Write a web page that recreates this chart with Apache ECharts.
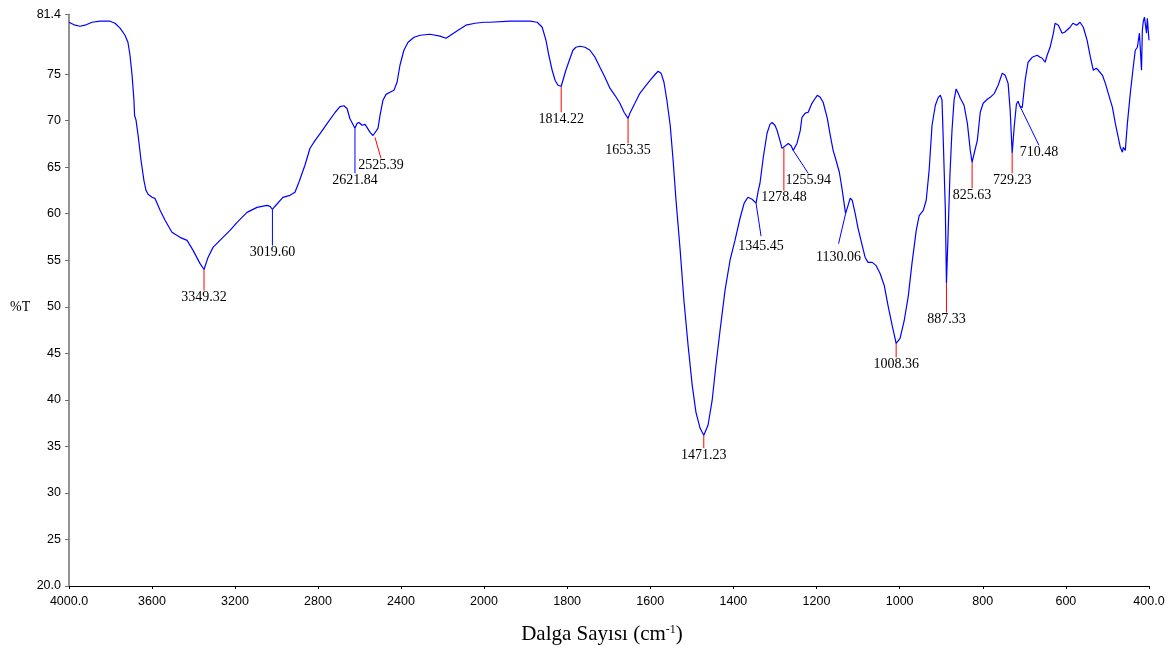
<!DOCTYPE html>
<html>
<head>
<meta charset="utf-8">
<script src="https://cdn.jsdelivr.net/npm/echarts@6/dist/echarts.min.js"></script>
<style>
  html, body { margin: 0; padding: 0; background: #ffffff; }
  #chart { width: 1175px; height: 652px; }
</style>
</head>
<body>
<div id="chart"></div>
<script>
// IR spectrum: wavenumber (cm-1) and transmittance (%T)
const wavenumber = [
  4000, 3971, 3947, 3923, 3889, 3851, 3802, 3778, 3754, 3730, 3716, 3706, 3696, 3687,
  3684, 3680, 3677, 3667, 3653, 3639, 3629, 3619, 3600, 3586, 3561, 3537, 3504, 3465,
  3431, 3402, 3369, 3349.32, 3330, 3306, 3263, 3224, 3190, 3142, 3094, 3046, 3031,
  3019.60, 3007, 2998, 2969, 2935, 2911, 2892, 2863, 2839, 2814, 2790, 2752, 2718,
  2694, 2675, 2660, 2646, 2621.84, 2612, 2602, 2588, 2573, 2564, 2549, 2535, 2525.39,
  2511, 2501, 2487, 2472, 2453, 2434, 2419, 2405, 2386, 2366, 2337, 2308, 2260, 2212,
  2183, 2154, 2125, 2087, 2043, 2000,
  1986, 1937, 1889, 1872, 1860, 1851, 1844, 1836, 1829, 1822, 1814.22, 1810, 1803,
  1793, 1786, 1779, 1769, 1757, 1745, 1733, 1721, 1709, 1697, 1685, 1673, 1663,
  1653.35, 1649, 1637, 1625, 1612, 1600, 1588, 1581, 1574, 1567, 1560, 1552, 1545,
  1538, 1528, 1519, 1509, 1499, 1490, 1480, 1471.23, 1461, 1451, 1442, 1432, 1420,
  1408, 1396, 1384, 1374, 1365, 1355, 1345.45, 1340, 1336, 1328, 1319, 1312, 1307,
  1300, 1295, 1288, 1283, 1278.48, 1268, 1261, 1255.94, 1247, 1239, 1235, 1227, 1220,
  1211, 1203, 1198, 1191, 1184, 1174, 1167, 1160, 1153, 1145, 1138, 1130.06, 1124,
  1119, 1114, 1107, 1100, 1093, 1083, 1076, 1066, 1057, 1047, 1037, 1028, 1018,
  1008.36, 999, 989, 979, 970, 960, 953, 943, 936, 929, 922, 914, 907, 902, 898, 895,
  890, 887.33, 884, 879, 874, 869, 864, 859, 854, 850, 845, 837, 830, 825.63, 820,
  813, 806, 799, 789, 782, 772, 763, 753, 746, 739, 734, 729.23, 724, 719, 715,
  710.48, 705, 698, 691, 681, 669, 662, 657, 650, 645, 638, 630, 626, 618, 609, 603,
  590, 583, 574, 566, 558, 549, 541, 534, 527, 522, 512, 505, 498, 488, 481, 474,
  469, 464, 462, 457, 452, 445, 438, 433, 428, 423, 418, 416, 414, 411, 406, 404, 400
];
const transmittance = [
  80.57, 80.25, 80.14, 80.25, 80.57, 80.68, 80.68, 80.46, 79.93, 79.17, 78.42, 77.02, 74.87, 72.19,
  70.55, 70.75, 70.05, 68.43, 65.74, 63.58, 62.51, 62.08, 61.76, 61.65, 60.36, 59.29, 58.0, 57.46,
  57.13, 56.06, 54.66, 54.0, 55.3, 56.38, 57.35, 58.2, 59.07, 60.14, 60.68, 60.9, 60.79,
  60.45, 60.8, 60.9, 61.76, 61.97, 62.3, 63.37, 65.2, 67.0, 67.88, 68.6, 69.8, 70.87,
  71.5, 71.6, 71.3, 70.2, 69.17, 69.7, 69.8, 69.5, 69.6, 69.6, 68.73, 68.4, 68.2,
  69.17, 70.57, 72.19, 72.82, 73.05, 73.26, 74.12, 75.95, 77.56, 78.42, 78.95, 79.17, 79.28, 79.07,
  78.85, 79.28, 79.71, 80.25, 80.46, 80.57,
  80.57, 80.68, 80.68, 80.57, 80.03, 78.64, 77.02, 75.41, 74.34, 73.8, 73.69, 74.34, 75.41,
  76.7, 77.56, 77.88, 77.99, 77.88, 77.56, 76.81, 75.73, 74.66, 73.48, 72.72, 71.86, 70.9,
  70.24, 70.8, 71.86, 72.93, 73.69, 74.34, 74.98, 75.3, 75.1, 74.12, 72.19, 69.5, 65.74,
  61.44, 56.06, 50.7, 45.86, 41.56, 38.66, 36.94, 36.2, 37.27, 39.96, 43.72, 47.48, 51.78,
  55.0, 57.15, 59.51, 61.13, 61.77, 61.55, 61.13, 62.5, 63.27, 66.06, 68.64, 69.6, 69.8,
  69.5, 68.96, 67.88, 67.02, 67.1, 67.55, 67.3, 66.8, 67.55, 68.95, 70.36, 70.8, 70.9,
  71.86, 72.4, 72.72, 72.5, 71.97, 70.25, 68.43, 66.81, 65.74, 64.45, 62.51, 60.0, 60.9,
  61.66, 61.44, 60.04, 58.43, 57.13, 55.3, 54.77, 54.77, 54.45, 53.58, 52.29, 50.14, 47.99,
  46.07, 46.6, 48.5, 51.2, 54.77, 58.2, 59.8, 60.36, 61.44, 64.66, 69.5, 71.65, 72.5, 72.72, 72.2, 67.9,
  60.36, 52.5, 57.0, 64.1, 68.96, 72.2, 73.4, 72.93, 72.4, 72.08, 71.65, 69.7, 66.8, 65.52, 66.6,
  67.88, 70.9, 71.86, 72.29, 72.5, 72.93, 73.8, 75.1, 74.88, 74.0, 71.1, 66.5, 69.5, 71.76, 72.08,
  71.54, 71.4, 74.34, 76.27, 76.8, 77.02, 76.8, 76.7, 76.27, 77.02, 77.88, 79.39, 80.46, 80.25, 79.39, 79.5,
  80.03, 80.46, 80.25, 80.57, 80.03, 78.64, 76.81, 75.41, 75.63, 75.41, 74.87, 74.0, 72.93, 71.43, 69.7, 68.2,
  67.13, 66.6, 67.13, 66.8, 69.7, 72.93, 75.73, 77.56, 77.88, 79.39, 75.41, 79.71, 80.57, 81.11, 79.39, 81.0, 78.64
];

// Labelled absorption bands
const peakWavenumbers = [
  3349.32, 3019.60, 2621.84, 2525.39, 1814.22, 1653.35, 1471.23, 1345.45,
  1278.48, 1255.94, 1130.06, 1008.36, 887.33, 825.63, 729.23, 710.48
];
const peakLabels = peakWavenumbers.map(v => v.toFixed(2));

// Axis ticks
const yTickValues = [20, 25, 30, 35, 40, 45, 50, 55, 60, 65, 70, 75, 81.4];
const xTicksHigh = [4000, 3600, 3200, 2800, 2400, 2000];
const xTicksLow = [1800, 1600, 1400, 1200, 1000, 800, 600, 400];

// Leader line layout for each band label: [dx, dy, label gap] in pixels, and colour
const leaderLayout = {
  '3349.32': [0, 21, 7, 'red'],
  '3019.60': [0, 36, 7, 'blue'],
  '2621.84': [0, 45, 7, 'blue'],
  '2525.39': [6, 21, 7, 'red'],
  '1814.22': [0, 26, 7, 'red'],
  '1653.35': [0, 25, 7, 'red'],
  '1471.23': [0, 13, 7, 'red'],
  '1345.45': [5, 33, 10, 'blue'],
  '1278.48': [0, 43, 7, 'red'],
  '1255.94': [15, 23, 7, 'blue'],
  '1130.06': [-7, 30, 14, 'blue'],
  '1008.36': [0, 14, 7, 'red'],
  '887.33': [0, 29, 7, 'red'],
  '825.63': [0, 26, 7, 'red'],
  '729.23': [0, 20, 7, 'red'],
  '710.48': [19, 39, 7, 'blue']
};
const leaderColors = { red: '#ff0000', blue: '#0000ff' };

const points = wavenumber.map((w, i) => [w, transmittance[i]]);
const highPart = points.filter(p => p[0] >= 2000);
const lowPart = points.filter(p => p[0] <= 2000);

function peakData(lo, hi) {
  const out = [];
  peakWavenumbers.forEach((w, i) => {
    if (w >= lo && w <= hi) {
      const idx = wavenumber.indexOf(w);
      out.push([w, transmittance[idx], i]);
    }
  });
  return out;
}

function renderPeak(params, api) {
  const i = api.value(2);
  const label = peakLabels[i];
  const lay = leaderLayout[label];
  const p = api.coord([api.value(0), api.value(1)]);
  const end = [p[0] + lay[0], p[1] + lay[1]];
  return {
    type: 'group',
    children: [
      {
        type: 'line',
        shape: { x1: p[0], y1: p[1], x2: end[0], y2: end[1] },
        style: { stroke: leaderColors[lay[3]], lineWidth: 1 }
      },
      {
        type: 'text',
        x: end[0],
        y: end[1] + lay[2],
        style: {
          text: label,
          fill: '#000000',
          font: '14px "Liberation Serif", "Times New Roman", serif',
          align: 'center',
          verticalAlign: 'middle'
        }
      }
    ]
  };
}

const tickFont = { fontFamily: '"Liberation Sans", Arial, sans-serif', fontSize: 12.5, color: '#000000' };
const xLabelFormat = v => (v === 4000 ? '4000.0' : v === 400 ? '400.0' : String(v));

const gridTop = 14.5, gridBottom = 66;

const option = {
  backgroundColor: '#ffffff',
  animation: false,
  grid: [
    { left: 69, width: 415, top: gridTop, bottom: gridBottom },
    { left: 484, right: 26, top: gridTop, bottom: gridBottom }
  ],
  xAxis: [
    {
      type: 'value', gridIndex: 0, inverse: true, min: 2000, max: 4000, interval: 400,
      splitLine: { show: false },
      axisLine: { onZero: false, lineStyle: { color: '#000000', width: 1 } },
      axisTick: { length: 3, lineStyle: { color: '#000000' }, customValues: xTicksHigh },
      axisLabel: Object.assign({ margin: 9, formatter: xLabelFormat, customValues: xTicksHigh }, tickFont)
    },
    {
      type: 'value', gridIndex: 1, inverse: true, min: 400, max: 2000, interval: 200,
      splitLine: { show: false },
      axisLine: { onZero: false, lineStyle: { color: '#000000', width: 1 } },
      axisTick: { length: 3, lineStyle: { color: '#000000' }, customValues: xTicksLow },
      axisLabel: Object.assign({ margin: 9, formatter: xLabelFormat, customValues: xTicksLow }, tickFont)
    }
  ],
  yAxis: [
    {
      type: 'value', gridIndex: 0, min: 20, max: 81.4,
      splitLine: { show: false },
      axisLine: { show: true, onZero: false, lineStyle: { color: '#6e6e6e', width: 1.5 } },
      axisTick: { show: true, length: 4, lineStyle: { color: '#6e6e6e' }, customValues: yTickValues },
      axisLabel: Object.assign({
        margin: 8,
        padding: [0, 0, 6, 0],
        customValues: yTickValues,
        formatter: v => (v === 20 ? '20.0' : v === 81.4 ? '81.4' : String(v))
      }, tickFont)
    },
    {
      type: 'value', gridIndex: 1, min: 20, max: 81.4, show: false
    }
  ],
  series: [
    {
      type: 'line', xAxisIndex: 0, yAxisIndex: 0, data: highPart,
      showSymbol: false, symbol: 'none',
      lineStyle: { color: '#0000ff', width: 1.2 }
    },
    {
      type: 'line', xAxisIndex: 1, yAxisIndex: 1, data: lowPart,
      showSymbol: false, symbol: 'none',
      lineStyle: { color: '#0000ff', width: 1.2 }
    },
    {
      type: 'custom', xAxisIndex: 0, yAxisIndex: 0, data: peakData(2000, 4000),
      renderItem: renderPeak, clip: false
    },
    {
      type: 'custom', xAxisIndex: 1, yAxisIndex: 1, data: peakData(400, 2000),
      renderItem: renderPeak, clip: false
    }
  ],
  graphic: [
    {
      type: 'text', left: 10, top: 300,
      style: {
        text: '%T',
        font: '14px "Liberation Serif", "Times New Roman", serif',
        fill: '#000000'
      }
    },
    {
      type: 'text', x: 602, y: 634,
      style: {
        text: '{t|Dalga Sayısı (cm}{s|-1}{t|)}',
        align: 'center',
        verticalAlign: 'middle',
        rich: {
          t: { font: '21px "Liberation Serif", "Times New Roman", serif', fill: '#000000', verticalAlign: 'bottom' },
          s: { font: '12px "Liberation Serif", "Times New Roman", serif', fill: '#000000', verticalAlign: 'top', padding: [0, 0, 8, 0] }
        }
      }
    }
  ]
};

const chart = echarts.init(document.getElementById('chart'), null, { renderer: 'canvas' });
chart.setOption(option);
</script>
</body>
</html>
